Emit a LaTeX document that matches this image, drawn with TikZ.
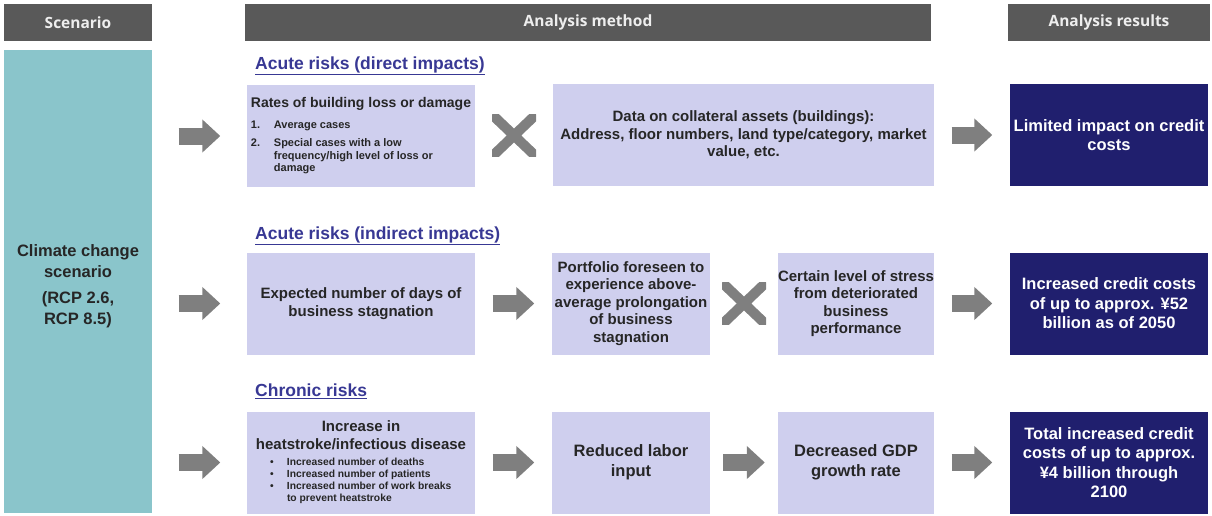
\documentclass[tikz,border=0pt]{standalone}
\usepackage{fontspec}
\setmainfont{Liberation Sans}
\newfontfamily\headfont{Open Sans}
\usetikzlibrary{arrows.meta}
\definecolor{hdrgray}{HTML}{595959}
\definecolor{hdrtext}{HTML}{EEEEEE}
\definecolor{teal}{HTML}{8AC5CB}
\definecolor{lavender}{HTML}{CFCFEE}
\definecolor{navy}{HTML}{201F6E}
\definecolor{riskblue}{HTML}{383894}
\definecolor{boxtext}{HTML}{262626}
\definecolor{arrowgray}{HTML}{7F7F7F}
\newcommand\lst{\fontsize{11}{12.5}\selectfont}
\newcommand\blt{\fontsize{10.3}{12}\selectfont}
\begin{document}
\begin{tikzpicture}[x=1pt,y=-1pt]
	\tikzset{hdr/.style={fill=hdrgray, text=hdrtext, font=\headfont\bfseries\fontsize{15.5}{18}\selectfont, minimum height=37pt, inner sep=0pt},
		lbox/.style={fill=lavender, text=boxtext, font=\bfseries\fontsize{15}{17.5}\selectfont, align=center, minimum height=102pt, inner sep=0pt},
		rbox/.style={fill=navy, text=white, font=\bfseries\fontsize{16.5}{19.5}\selectfont, align=center, minimum width=198pt, minimum height=102pt, inner sep=0pt},
		risk/.style={anchor=west, text=riskblue, font=\bfseries\fontsize{17.5}{20}\selectfont, inner sep=0pt},
		fat/.style={draw=arrowgray, line width=17pt, -{Triangle[length=18pt,width=32pt]}, shorten <=#1, shorten >=#1},
		xmark/.style={minimum width=44pt, minimum height=42pt, inner sep=0pt, path picture={
				\draw[arrowgray, line width=10pt] (path picture bounding box.south west) -- (path picture bounding box.north east)
				(path picture bounding box.north west) -- (path picture bounding box.south east);}}}
	\useasboundingbox (0,0) rectangle (1212,515);
	\node[hdr, minimum width=148pt] (hscen) at (78,22.5) {Scenario};
	\node[hdr, minimum width=686pt] (hmeth) at (588,22.5) {Analysis method};
	\node[hdr, minimum width=202pt] (hres) at (1109,22.5) {Analysis results};
	\node[fill=teal, text=boxtext, minimum width=148pt, minimum height=463pt, inner sep=0pt, align=center, font=\bfseries\fontsize{16.5}{21}\selectfont] (scen) at (78,281.5) {\rule{0pt}{22pt}Climate change\\scenario\\[5pt](RCP 2.6,\\RCP 8.5)};
	
	\node[risk] (t1) at (255,66) {\underline{Acute risks (direct impacts)}};
	\node[lbox, minimum width=228pt, align=left, font=\bfseries\fontsize{14}{16}\selectfont] (r1a) at (361,136) {Rates of building loss or damage\\[5pt]
		\lst\makebox[23pt][l]{1.}Average cases\\[2pt]
		\lst\makebox[23pt][l]{2.}Special cases with a low\\[-3.5pt]
		\lst\hspace*{23pt}frequency/high level of loss or\\[-3.5pt]
		\lst\hspace*{23pt}damage};
	\node[lbox, minimum width=381pt] (r1b) at (743.5,135) {Data on collateral assets (buildings):\\Address, floor numbers, land type/category, market\\value, etc.};
	\node[rbox] (r1r) at (1109,135) {Limited impact on credit\\costs};
	\path (r1a.east) -- (r1b.west) node[midway, xmark] {};
	\draw[fat=26.5pt] (scen.east |- r1a.west) -- (r1a.west);
	\draw[fat=17.5pt] (r1b.east) -- (r1r.west);
	
	\node[risk] (t2) at (255,236) {\underline{Acute risks (indirect impacts)}};
	\node[lbox, minimum width=228pt] (r2a) at (361,303.5) {Expected number of days of\\business stagnation};
	\node[lbox, minimum width=158pt] (r2b) at (631,303.5) {Portfolio foreseen to\\experience above-\\average prolongation\\of business\\stagnation};
	\node[lbox, minimum width=156pt] (r2c) at (856,303.5) {Certain level of stress\\from deteriorated\\business\\performance};
	\node[rbox] (r2r) at (1109,303.5) {Increased credit costs\\of up to approx. ¥52\\billion as of 2050};
	\path (r2b.east) -- (r2c.west) node[midway, xmark] {};
	\draw[fat=26.5pt] (scen.east |- r2a.west) -- (r2a.west);
	\draw[fat=17.5pt] (r2a.east) -- (r2b.west);
	\draw[fat=17.5pt] (r2c.east) -- (r2r.west);
	
	\node[risk] (t3) at (255,391) {\underline{Chronic risks}};
	\node[lbox, minimum width=228pt] (r3a) at (361,462.5) {Increase in\\[0.5pt]heatstroke/infectious disease\\[-1.5pt]
		\blt\makebox[182pt][l]{\makebox[17pt][l]{\textbullet}Increased number of deaths}\\[-5.5pt]
		\blt\makebox[182pt][l]{\makebox[17pt][l]{\textbullet}Increased number of patients}\\[-5.5pt]
		\blt\makebox[182pt][l]{\makebox[17pt][l]{\textbullet}Increased number of work breaks}\\[-5.5pt]
		\blt\makebox[182pt][l]{\hspace*{17pt}to prevent heatstroke}};
	\node[lbox, minimum width=158pt, font=\bfseries\fontsize{16.5}{20}\selectfont] (r3b) at (631,462.5) {Reduced labor\\input};
	\node[lbox, minimum width=156pt, font=\bfseries\fontsize{16.5}{20}\selectfont] (r3c) at (856,462.5) {Decreased GDP\\growth rate};
	\node[rbox] (r3r) at (1109,462.5) {Total increased credit\\costs of up to approx.\\¥4 billion through\\2100};
	\draw[fat=26.5pt] (scen.east |- r3a.west) -- (r3a.west);
	\draw[fat=17.5pt] (r3a.east) -- (r3b.west);
	\draw[fat=13pt] (r3b.east) -- (r3c.west);
	\draw[fat=17.5pt] (r3c.east) -- (r3r.west);
\end{tikzpicture}
\end{document}
